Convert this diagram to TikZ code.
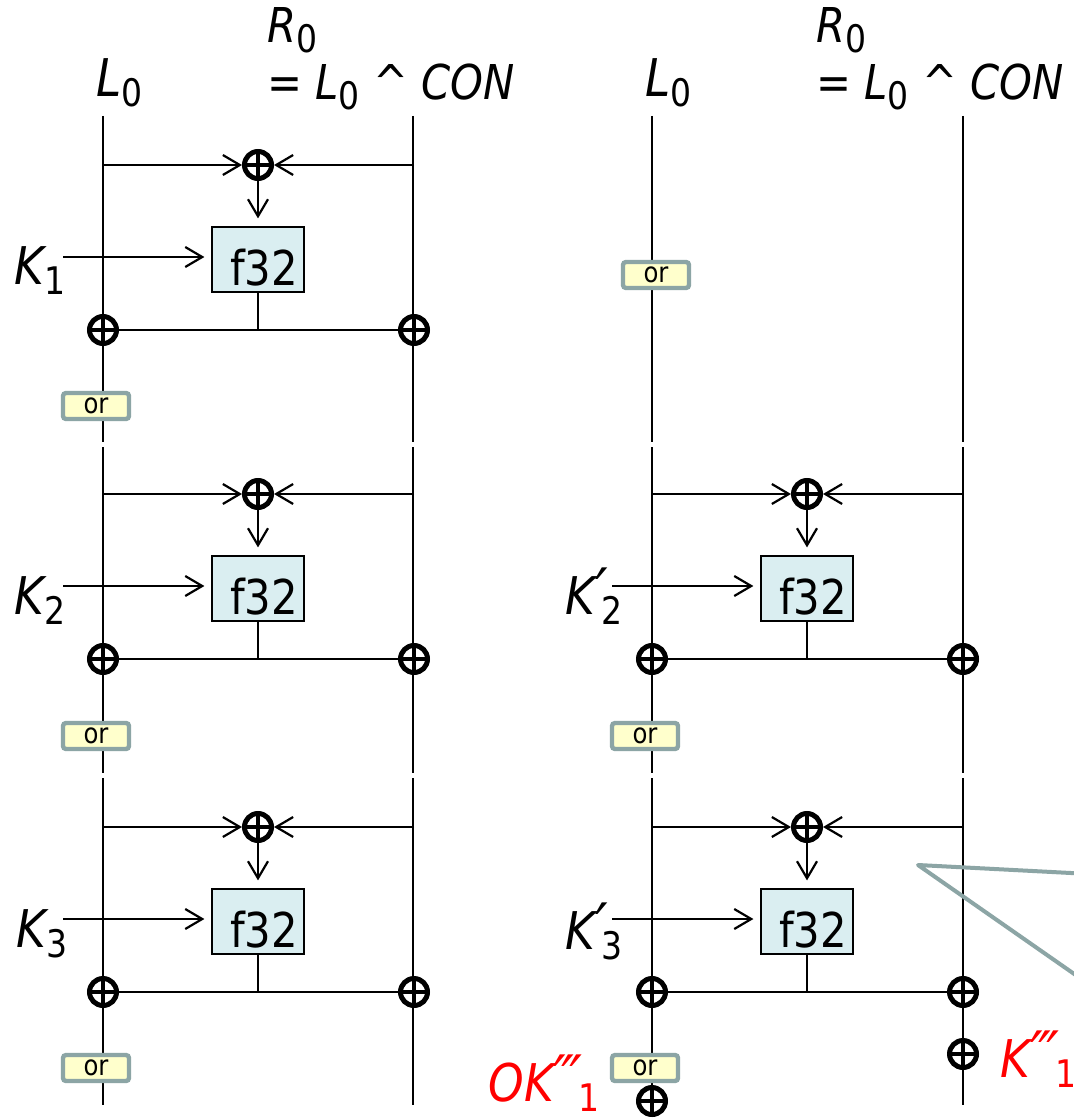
\documentclass[tikz,border=0pt]{standalone}
\usepackage{fontspec}
\setmainfont{DejaVu Sans}[FakeStretch=0.87]
\usepackage{xcolor}
\usetikzlibrary{arrows.meta, calc}
\definecolor{boxblue}{HTML}{DAEEF1}
\definecolor{oryellow}{HTML}{FFFFCC}
\definecolor{orgray}{HTML}{8CA5A5}
\newcommand\lsub[1]{\raisebox{-5pt}{\fontsize{19}{19}\selectfont\upshape #1}}
\newcommand\bigprime[1]{{\fontsize{32}{32}\selectfont #1}}

\begin{document}
\begin{tikzpicture}[x=0.5pt, y=-0.5pt,
  every node/.style={font=\fontsize{24}{28}\selectfont},
  wire/.style={line width=1.1pt},
  arr/.style={wire, -{Straight Barb[length=8.5pt, width=10pt]}},
  xorop/.style={circle, draw, line width=2.5pt, fill=white, minimum size=13.5pt, inner sep=0pt,
    path picture={\draw[line width=2pt] (path picture bounding box.north) -- (path picture bounding box.south)
      (path picture bounding box.west) -- (path picture bounding box.east);}},
  fbox/.style={draw, line width=0.6pt, fill=boxblue, minimum width=46pt, minimum height=32.5pt,
    inner sep=0pt, text height=26pt},
  orbox/.style={draw=orgray, line width=2.2pt, fill=oryellow, rounded corners=1.5pt,
    minimum width=33pt, minimum height=13pt, inner sep=0pt, font=\fontsize{14}{14}\selectfont},
  lbl/.style={anchor=base west, inner sep=0pt, font=\fontsize{26}{30}\selectfont\itshape},
  hdr/.style={anchor=base west, inner sep=0pt, font=\fontsize{24}{28}\selectfont},
  callout/.style={draw=orgray, line width=2pt, line join=round}
]
\useasboundingbox (0,0) rectangle (1073,1118);
\fill[white] (0,0) rectangle (1073,1118);

\foreach \x in {103,413,652,963}
  \foreach \a/\b in {116/442,447/773,778/1105}
    \draw[wire] (\x,\a) -- (\x,\b);

\node[hdr] (hLa) at (96,97) {\fontsize{26}{30}\selectfont\itshape L\lsub{0}};
\node[hdr] (hRa) at (267,43) {\itshape R\lsub{0}};
\node[hdr] (hEa) at (267,100) {= \textit{L}\lsub{0} \textasciicircum\ \textit{CON}};
\node[hdr] (hLb) at (645,97) {\fontsize{26}{30}\selectfont\itshape L\lsub{0}};
\node[hdr] (hRb) at (816,43) {\itshape R\lsub{0}};
\node[hdr] (hEb) at (816,100) {= \textit{L}\lsub{0} \textasciicircum\ \textit{CON}};

\foreach \c/\dx/\r/\t in {a/0/1/165, a/0/2/494, a/0/3/827, b/549/2/494, b/549/3/827} {
  \coordinate (tl\c\r) at (103+\dx,\t);
  \coordinate (tr\c\r) at (414+\dx,\t);
  \coordinate (k\c\r) at (63+\dx,\t+92);
  \node[xorop] (xt\c\r) at (258+\dx,\t) {};
  \node[fbox] (f\c\r) at (258+\dx,\t+94.5) {\hspace{6pt}f32};
  \node[xorop] (xl\c\r) at (103+\dx,\t+165) {};
  \node[xorop] (xr\c\r) at (414+\dx,\t+165) {};
  \draw[arr] (tl\c\r) -- (xt\c\r);
  \draw[arr] (tr\c\r) -- (xt\c\r);
  \draw[arr, shorten >=4pt] (xt\c\r) -- (f\c\r);
  \draw[arr, shorten >=3.5pt] (k\c\r) -- (k\c\r -| f\c\r.west);
  \draw[wire] (xl\c\r) -- (xr\c\r);
  \draw[wire] (f\c\r) -- (f\c\r |- xl\c\r);
}

\node[lbl] (ka1) at (14,285) {K\lsub{1}};
\node[lbl] (ka2) at (14,614) {K\lsub{2}};
\node[lbl] (ka3) at (16,947) {K\lsub{3}};
\node[lbl] (kb2) at (565,614) {K\rlap{\bigprime{′}}\kern3pt\lsub{2}};
\node[lbl] (kb3) at (565,949) {K\rlap{\bigprime{′}}\kern3pt\lsub{3}};

\node[orbox] (ora1) at (96,406) {or};
\node[orbox] (ora2) at (96,736) {or};
\node[orbox] (ora3) at (96,1068) {or};
\node[orbox] (orb1) at (656,275) {or};
\node[orbox] (orb2) at (645,736) {or};
\node[orbox] (orb3) at (645,1068) {or};

\node[xorop] (xok) at (652,1101) {};
\node[xorop] (xkr) at (963,1054) {};
\node[lbl, red] (okred) at (488,1101) {OK\bigprime{‴}\kern-2pt\lsub{1}};
\node[lbl, red] (kred) at (1000,1077) {K\bigprime{‴}\kern-2pt\lsub{1}};

\draw[callout] (1090,874) -- (918,865) -- (1090,985);
\end{tikzpicture}
\end{document}
